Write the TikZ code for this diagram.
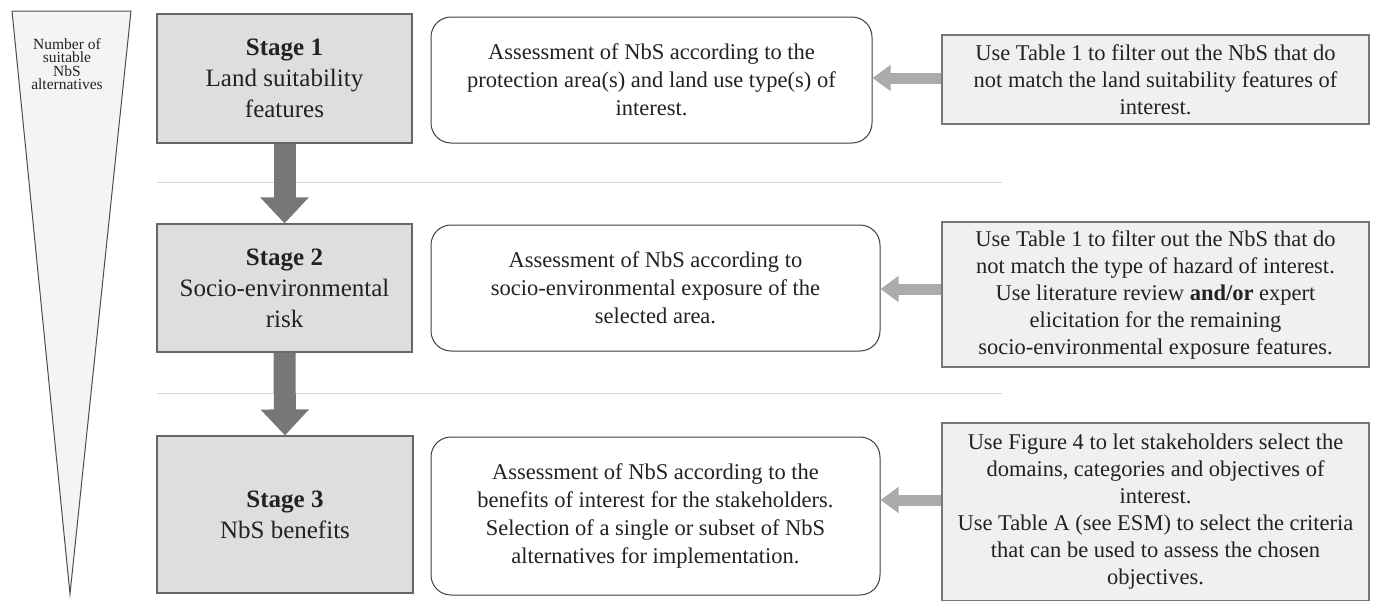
\documentclass[tikz,border=0pt]{standalone}
\usepackage{fontspec}
\setmainfont{Liberation Serif}
\usetikzlibrary{arrows.meta}
\definecolor{stagefill}{HTML}{DEDEDE}
\definecolor{stageline}{HTML}{666666}
\definecolor{notefill}{HTML}{F0F0F0}
\definecolor{noteline}{HTML}{777777}
\definecolor{tripfill}{HTML}{F4F4F4}
\definecolor{downcol}{HTML}{777777}
\definecolor{leftcol}{HTML}{ABABAB}
\definecolor{sepcol}{HTML}{D4D4D4}
\definecolor{txt}{HTML}{222222}
\begin{document}
\begin{tikzpicture}[x=1pt,y=-1pt,
  stagebox/.style={draw=stageline,fill=stagefill,line width=1.2pt,align=center,text=txt,
    font=\fontsize{25}{31}\selectfont,inner sep=0pt},
  midbox/.style={draw=black!75,fill=white,line width=1pt,rounded corners=20pt,align=center,text=txt,
    font=\fontsize{22.5}{28}\selectfont,inner sep=0pt},
  notebox/.style={draw=noteline,fill=notefill,line width=1.2pt,align=center,text=txt,
    font=\fontsize{22.5}{27}\selectfont,inner sep=0pt},
  downarrow/.style={draw=downcol,line width=22pt,-{Triangle[length=26pt,width=47pt]}},
  leftarrow/.style={draw=leftcol,line width=11pt,-{Triangle[length=18pt,width=25pt]}},
  sepline/.style={draw=sepcol,line width=1pt}
]
\useasboundingbox (0,0) rectangle (1378,600);
% funnel
\draw[draw=black!70,fill=tripfill,line width=1pt] (12,11) -- (131,11) -- (70,594) -- cycle;
\node[text=txt,align=center,font=\fontsize{15.5}{13.5}\selectfont] (fun) at (67,64) {Number of\\suitable\\NbS\\alternatives};
% separators
\coordinate (s1a) at (157,182); \coordinate (s1b) at (1002,182);
\coordinate (s2a) at (157,393); \coordinate (s2b) at (1002,393);
\draw[sepline] (s1a) -- (s1b);
\draw[sepline] (s2a) -- (s2b);
% stage boxes
\node[stagebox,minimum width=255pt,minimum height=129pt] (st1) at (284.5,78.5)
  {\textbf{Stage 1}\\Land suitability\\features};
\node[stagebox,minimum width=255pt,minimum height=128pt] (st2) at (284.5,288)
  {\textbf{Stage 2}\\Socio-environmental\\risk};
\node[stagebox,minimum width=256pt,minimum height=157pt] (st3) at (285,514.5)
  {\textbf{Stage 3}\\NbS benefits};
% middle boxes
\node[midbox,minimum width=441pt,minimum height=126pt] (mb1) at (651.5,80)
  {Assessment of NbS according to the\\protection area(s) and land use type(s) of\\interest.};
\node[midbox,minimum width=449pt,minimum height=126pt] (mb2) at (655.5,288)
  {Assessment of NbS according to\\socio-environmental exposure of the\\selected area.};
\node[midbox,minimum width=449pt,minimum height=158pt] (mb3) at (655.5,516)
  {Assessment of NbS according to the\\benefits of interest for the stakeholders.\\Selection of a single or subset of NbS\\alternatives for implementation.};
% note boxes
\node[notebox,minimum width=427pt,minimum height=89pt] (rb1) at (1155.5,79.5)
  {Use Table 1 to filter out the NbS that do\\not match the land suitability features of\\interest.};
\node[notebox,minimum width=427pt,minimum height=145pt] (rb2) at (1155.5,294.5)
  {Use Table 1 to filter out the NbS that do\\not match the type of hazard of interest.\\Use literature review \textbf{and/or} expert\\elicitation for the remaining\\socio-environmental exposure features.};
\node[notebox,minimum width=427pt,minimum height=178pt] (rb3) at (1155.5,512)
  {Use Figure 4 to let stakeholders select the\\domains, categories and objectives of\\interest.\\Use Table A (see ESM) to select the criteria\\that can be used to assess the chosen\\objectives.};
% down arrows
\draw[downarrow] (st1.south) -- (st2.north);
\draw[downarrow] (st2.south) -- (st3.north);
% left arrows
\draw[leftarrow] (rb1.west |- 0,78) -- (mb1.east |- 0,78);
\draw[leftarrow] (rb2.west |- 0,289) -- (mb2.east |- 0,289);
\draw[leftarrow] (rb3.west |- 0,500) -- (mb3.east |- 0,500);
\end{tikzpicture}
\end{document}
